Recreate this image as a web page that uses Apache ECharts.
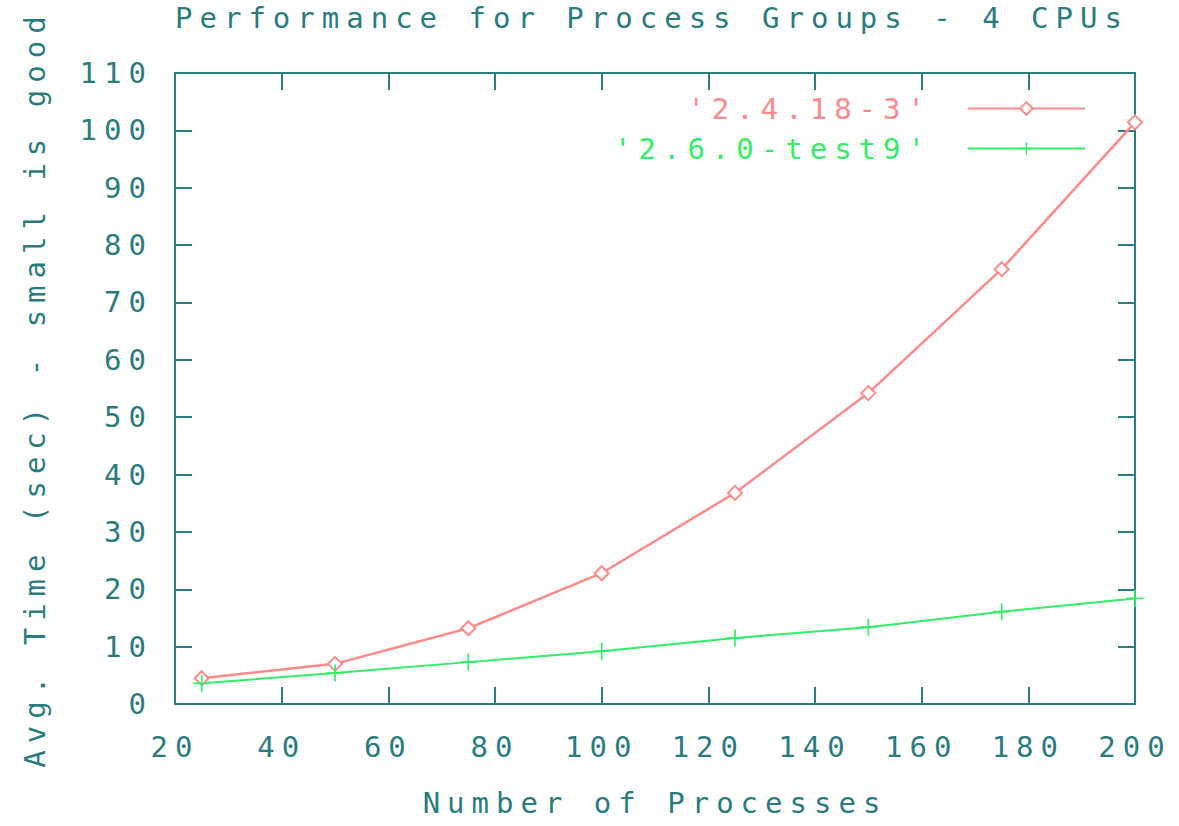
<!DOCTYPE html>
<html>
<head>
<meta charset="utf-8">
<script src="https://cdn.jsdelivr.net/npm/echarts@6/dist/echarts.min.js"></script>
<style>
  html, body { margin: 0; padding: 0; background: #ffffff; }
  #chart { width: 1179px; height: 826px; }
  /* wide, evenly spaced terminal-style lettering */
  #chart text { letter-spacing: 7px; }
</style>
</head>
<body>
<div id="chart"></div>
<script>
// Number of processes per run
const processes = [25, 50, 75, 100, 125, 150, 175, 200];
// Average time (sec) for each kernel
const kernel24 = [4.5, 7.0, 13.2, 22.8, 36.8, 54.2, 75.8, 101.4];
const kernel26 = [3.6, 5.4, 7.3, 9.2, 11.5, 13.4, 16.1, 18.4];
const seriesNames = ["'2.4.18-3'", "'2.6.0-test9'"];

const ink = '#2a7c7e';
const red = '#ff8a8a';
const green = '#33ee66';
const FONT = 'DejaVu Sans Mono';
const FS = 29;

const plusPath = 'path://M9,0h2v20h-2zM0,9h20v2h-20z';

function pairs(xs, ys) { return xs.map((x, i) => [x, ys[i]]); }

const frameAxis = {
  axisLine: { show: true, onZero: false, lineStyle: { color: ink, width: 2 } },
  axisTick: { show: true, inside: true, length: 17, lineStyle: { color: ink, width: 2 } },
  splitLine: { show: false }
};

const chart = echarts.init(document.getElementById('chart'), null, { renderer: 'svg' });
chart.setOption({
  backgroundColor: '#ffffff',
  animation: false,
  textStyle: { fontFamily: FONT },
  title: {
    text: 'Performance for Process Groups - 4 CPUs',
    left: 170, top: -2,
    textStyle: { fontFamily: FONT, fontSize: FS, fontWeight: 'normal', color: ink }
  },
  grid: { left: 175, right: 44, top: 73, bottom: 122, containLabel: false },
  legend: {
    orient: 'vertical',
    right: 88, top: 89,
    align: 'right',
    itemWidth: 117, itemHeight: 16, itemGap: 11,
    textStyle: { fontFamily: FONT, fontSize: FS, padding: [0, 31, 0, 0] },
    data: [
      { name: seriesNames[0], textStyle: { color: red } },
      { name: seriesNames[1], textStyle: { color: green } }
    ]
  },
  xAxis: [
    Object.assign({
      type: 'value', position: 'bottom', min: 20, max: 200, interval: 20,
      name: 'Number of Processes', nameLocation: 'middle', nameGap: 84,
      nameTextStyle: { fontFamily: FONT, fontSize: FS, color: ink },
      axisLabel: { fontFamily: FONT, fontSize: FS, color: ink, margin: 28 }
    }, frameAxis),
    Object.assign({
      type: 'value', position: 'top', min: 20, max: 200, interval: 20,
      axisLabel: { show: false }
    }, frameAxis)
  ],
  yAxis: [
    Object.assign({
      type: 'value', position: 'left', min: 0, max: 110, interval: 10,
      name: 'Avg. Time (sec) - small is good', nameLocation: 'middle', nameGap: 126, nameRotate: 90,
      nameTextStyle: { fontFamily: FONT, fontSize: FS, color: ink },
      axisLabel: { fontFamily: FONT, fontSize: FS, color: ink, margin: 22 }
    }, frameAxis),
    Object.assign({
      type: 'value', position: 'right', min: 0, max: 110, interval: 10,
      axisLabel: { show: false }
    }, frameAxis)
  ],
  series: [
    {
      name: seriesNames[0], type: 'line',
      data: pairs(processes, kernel24),
      symbol: 'emptyDiamond', symbolSize: 14,
      lineStyle: { color: red, width: 2.5 },
      itemStyle: { color: red, borderColor: red, borderWidth: 2 }
    },
    {
      name: seriesNames[1], type: 'line',
      data: pairs(processes, kernel26),
      symbol: plusPath, symbolSize: 17,
      lineStyle: { color: green, width: 2 },
      itemStyle: { color: green }
    }
  ]
});
</script>
</body>
</html>
